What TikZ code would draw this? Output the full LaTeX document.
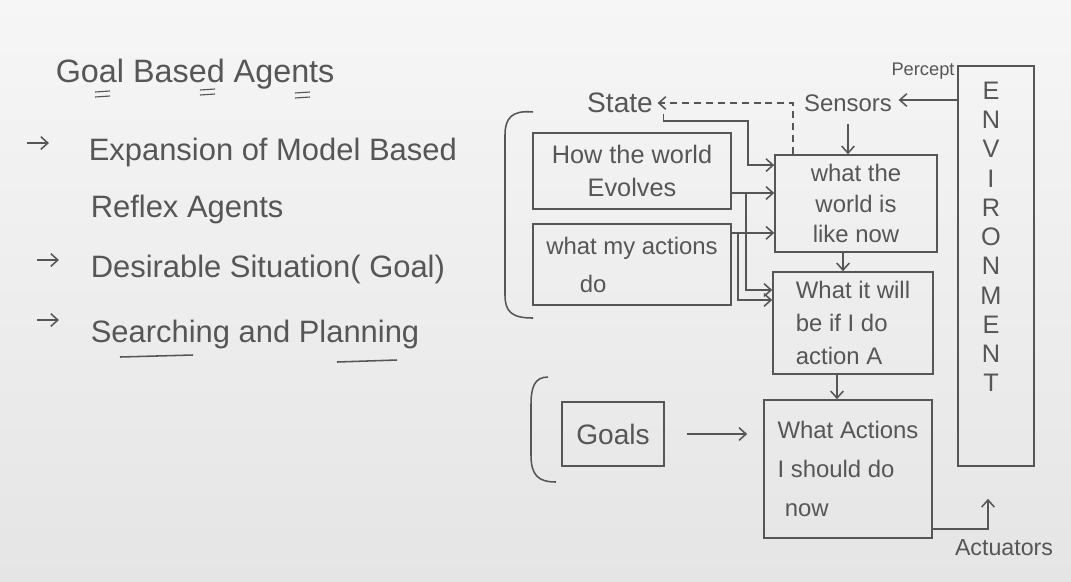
\documentclass[tikz,border=0pt]{standalone}
\usepackage{fontspec}
\setmainfont{Liberation Sans}
\usetikzlibrary{arrows.meta}
\definecolor{ink}{HTML}{565656}
\definecolor{boardtop}{HTML}{F6F6F6}
\definecolor{boardbottom}{HTML}{E5E5E5}

\begin{document}
\begin{tikzpicture}[x=0.025cm, y=-0.025cm, line width=1.1pt, color=ink,
        >={Straight Barb[length=5pt,width=9pt]},
        box/.style={draw, rectangle, inner sep=0pt},
        words/.style={inner sep=0pt},
        bullet/.style={words, anchor=base west, font=\fontsize{22}{26}\selectfont}]
        \fill[top color=boardtop, bottom color=boardbottom, draw=none] (0,0) rectangle (1071,581);

        \node[words, anchor=base west, font=\fontsize{23}{27}\selectfont](title) at (55,82) {Goal Based Agents};
        \foreach \x/\y in {95/92, 200/90, 295/93} {
            \draw[line width=0.8pt] (\x,\y) -- ++(15,-1);
            \draw[line width=0.8pt] (\x,\y+5) -- ++(15,-1);
        }
        \foreach \x/\y in {27/143, 37/260, 37/320} {
            \draw[->] (\x,\y) -- ++(22,0);
        }
        \node[bullet](l1) at (88,160) {Expansion of Model Based};
        \node[bullet](l2) at (90,217) {Reflex Agents};
        \node[bullet](l3) at (90,277) {Desirable Situation( Goal)};
        \node[bullet](l4) at (90,342) {Searching and Planning};
        \draw (120,357) -- (193,355);
        \draw (337,362) -- (397,360);

        \node[words, font=\fontsize{20}{24}\selectfont](State) at (620,103) {State};
        \node[words, font=\fontsize{17}{20}\selectfont](Sensors) at (848,103) {Sensors};
        \node[words, font=\fontsize{13}{16}\selectfont](Percept) at (923,71) {Percept};
        \node[box, minimum width=1.9cm, minimum height=10cm](env) at (996,266) {};
        \node[words, align=center, font=\fontsize{18}{20.8}\selectfont](envtxt) at (991,237) {E\\N\\V\\I\\R\\O\\N\\M\\E\\N\\T};

        \node[box, minimum width=4.95cm, minimum height=1.9cm, align=center, font=\fontsize{18}{24}\selectfont](evolves) at (632,171) {How the world\\Evolves};
        \node[box, minimum width=4.95cm, minimum height=2.025cm, align=left, font=\fontsize{17}{27}\selectfont](actions) at (632,264.5) {what my actions\\\hspace{1.4em}do};
        \node[box, minimum width=4.05cm, minimum height=2.425cm, align=center, font=\fontsize{17}{21.5}\selectfont](W) at (856,203.5) {what the\\world is\\like now};
        \node[box, minimum width=4cm, minimum height=2.55cm, align=left, font=\fontsize{17}{23.5}\selectfont](A) at (853,323) {What it will\\be if I do\\action A};
        \node[box, minimum width=4.2cm, minimum height=3.45cm, align=left, font=\fontsize{17}{27.5}\selectfont](G) at (848,469) {What Actions\\I should do\\\hspace{0.3em}now};
        \node[box, minimum width=2.55cm, minimum height=1.6cm, font=\fontsize{20}{24}\selectfont](Goals) at (613,434) {Goals};
        \node[words, font=\fontsize{16.5}{20}\selectfont](Actuators) at (1004,548) {Actuators};

        \draw[->] (env.west |- 0,100) -- ([xshift=0.15cm]Sensors.east |- 0,100);
        \draw[->, shorten <=0.3cm] (Sensors.south) -- (Sensors.south |- W.north);
        \draw[->, dashed, dash pattern=on 5pt off 3.5pt] ([xshift=-1.575cm]W.north) |- ([xshift=0.1cm]State.east);
        \coordinate(sj) at (748,121);
        \draw[->] ([xshift=0.25cm]State.south east) |- (sj) |- ([yshift=0.96cm]W.west);
        \draw[->] ([yshift=-0.55cm]evolves.east) -- ([yshift=-0.55cm]evolves.east -| W.west);
        \draw[->] ([xshift=0.35cm,yshift=-0.55cm]evolves.east) |- ([yshift=0.825cm]A.west);
        \draw[->] ([yshift=0.79cm]actions.east) -- ([yshift=0.79cm]actions.east -| W.west);
        \draw[->] ([xshift=0.15cm,yshift=0.79cm]actions.east) |- ([yshift=0.575cm]A.west);
        \draw[->] ([xshift=-0.325cm]W.south) -- ([xshift=-0.325cm]W.south |- A.north);
        \draw[->] ([xshift=-0.4cm]A.south) -- ([xshift=-0.4cm]A.south |- G.north);
        \draw[->, shorten <=0.55cm, shorten >=0.4cm] (Goals.east) -- (Goals.east -| G.west);
        \draw[->, shorten >=0.8cm] ([yshift=0.25cm]G.south east) -| ([xshift=-0.2cm]env.south);

        \draw (533,112) .. controls (512,110) and (505,118) .. (505,135) -- (505,295) .. controls (505,312) and (512,318) .. (533,318);
        \draw (548,377) .. controls (534,377) and (531,388) .. (531,405) -- (531,455) .. controls (531,475) and (538,482) .. (556,482);
        \end{tikzpicture}
\end{document}
